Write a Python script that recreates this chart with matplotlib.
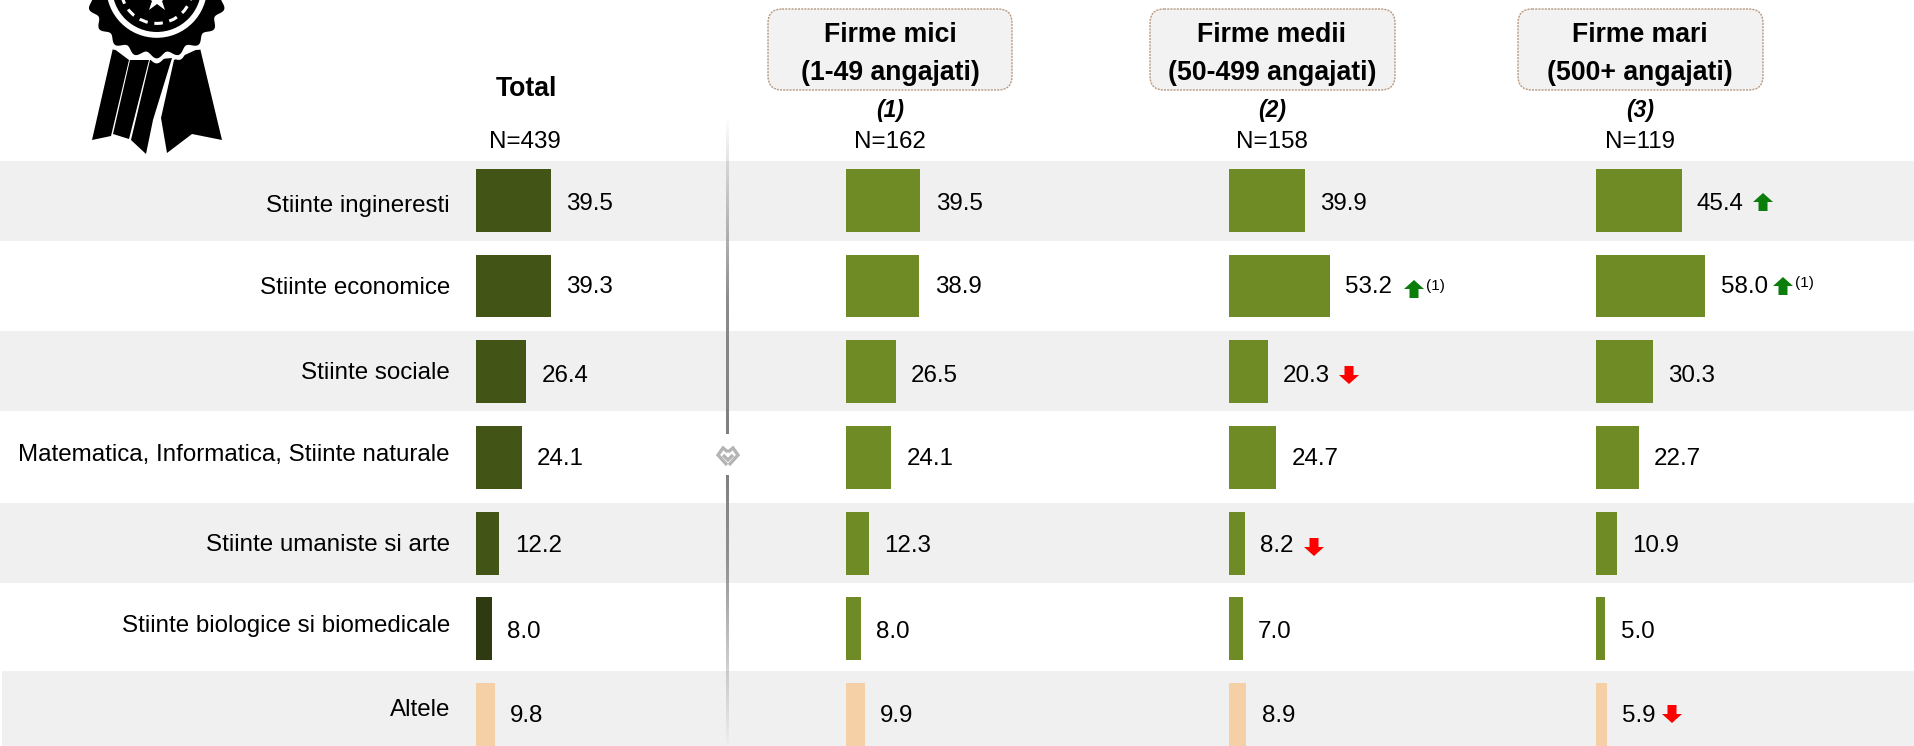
import numpy as np
import matplotlib
matplotlib.use("Agg")
import matplotlib.pyplot as plt
from matplotlib.patches import Rectangle, FancyBboxPatch, Polygon, Circle

categories = ["Stiinte ingineresti", "Stiinte economice", "Stiinte sociale",
              "Matematica, Informatica, Stiinte naturale", "Stiinte umaniste si arte",
              "Stiinte biologice si biomedicale", "Altele"]
total = [39.5, 39.3, 26.4, 24.1, 12.2, 8.0, 9.8]
mici = [39.5, 38.9, 26.5, 24.1, 12.3, 8.0, 9.9]
medii = [39.9, 53.2, 20.3, 24.7, 8.2, 7.0, 8.9]
mari = [45.4, 58.0, 30.3, 22.7, 10.9, 5.0, 5.9]
n_labels = ["N=439", "N=162", "N=158", "N=119"]
headers = ["Firme mici\n(1-49 angajati)", "Firme medii\n(50-499 angajati)", "Firme mari\n(500+ angajati)"]
col_ids = ["(1)", "(2)", "(3)"]
# (column, row, direction, note)
signals = [(3, 0, 1, ""), (2, 1, 1, "(1)"), (3, 1, 1, "(1)"), (2, 2, -1, ""), (2, 4, -1, ""), (3, 6, -1, "")]

W, H = 1915, 746
plt.rcParams["font.family"] = ["Liberation Sans"]
FS = 17.4
FSB = 19.2
OLIVE, DARK, DARKER, PEACH, BAND = "#6f8b26", "#435417", "#2f3a10", "#f5cfa5", "#f0f0f0"

fig = plt.figure(figsize=(W / 100, H / 100), dpi=100, facecolor="white")
bg = fig.add_axes([0, 0, 1, 1])
bg.axis("off")

for y0, y1, x0 in [(161, 241, 0), (331, 411, 0), (503, 583, 0), (671, 746, 2)]:
    bg.add_patch(Rectangle((x0, y0), W - x0, y1 - y0, fc=BAND, ec="none", zorder=0))

# vertical divider with fading ends
def fade(y0, y1, a0, a1):
    rgba = np.zeros((200, 1, 4)); rgba[..., :3] = 0.5
    rgba[:, 0, 3] = np.linspace(a0, a1, 200)
    bg.imshow(rgba, extent=(726.5, 729.5, y1, y0), aspect="auto", zorder=1, interpolation="bilinear")
fade(120, 300, 0.02, 0.9); fade(300, 434, 0.9, 1); fade(475, 560, 1, 0.85); fade(560, 745, 0.85, 0.02)
ic = dict(color="#b4b4b4", lw=2.4, solid_joinstyle="miter", solid_capstyle="butt", zorder=2)
bg.plot([728, 723, 718, 727], [452, 448, 455, 465], **ic)
bg.plot([728, 733, 738, 729], [452, 448, 455, 465], **ic)
bg.plot([723, 728, 733], [455, 460, 455], **ic)

# medal
cx, cy = 156.7, -12.6
t = np.linspace(0, 2 * np.pi, 600)
r = 68 + 3 * np.cos(20 * t)
ribbons = [[(113, 48), (92, 140), (111, 136), (129, 60)],
           [(130, 60), (113, 134), (129, 139), (149, 60)],
           [(150, 60), (131, 140), (146, 154), (153, 120), (172, 58)],
           [(174, 60), (161, 118), (167, 153), (192, 134), (222, 140), (200, 48)]]
for p in ribbons:
    bg.add_patch(Polygon(p, fc="black", ec="none", zorder=2))
bg.add_patch(Polygon(np.c_[cx + (r + 5) * np.cos(t), cy + (r + 5) * np.sin(t)], fc="white", ec="none", zorder=3))
bg.add_patch(Polygon(np.c_[cx + r * np.cos(t), cy + r * np.sin(t)], fc="black", ec="none", zorder=4))
bg.add_patch(Circle((cx, cy), 47.5, fc="none", ec="white", lw=4.2, zorder=5))
bg.add_patch(Circle((cx, cy), 36, fc="none", ec="white", lw=2.2, ls=(0, (2.8, 2.2)), zorder=5))
bg.plot([cx], [-1], marker="*", ms=20, mew=0, color="white", zorder=5, clip_on=True)

# headers
centers = [525, 890, 1272, 1640]
boxes = [(768, 1012), (1150, 1395), (1518, 1763)]
bg.text(526, 89, "Total", ha="center", va="center", fontsize=FSB, fontweight="bold", zorder=6)
for c, lab in zip(centers, n_labels):
    bg.text(c, 142, lab, ha="center", va="center", fontsize=FS, zorder=6)
for (x0, x1), head, cid, c in zip(boxes, headers, col_ids, centers[1:]):
    bg.add_patch(FancyBboxPatch((x0, 9), x1 - x0, 81, boxstyle="round,pad=0,rounding_size=14",
                                fc="#f2f2f2", ec="#b89a82", lw=1, ls=(0, (1.5, 0.8)), zorder=1))
    bg.text(c, 54, head, ha="center", va="center", fontsize=FSB, fontweight="bold", linespacing=1.65, zorder=6)
    bg.text(c, 111, cid, ha="center", va="center", fontsize=16.5, fontweight="bold", fontstyle="italic", zorder=6)

# category labels
label_y = [206, 288, 373, 455, 545, 626, 710]
for cat, y in zip(categories, label_y):
    bg.text(450, y, cat, ha="right", va="center", fontsize=FS, zorder=6)

bg.set_xlim(0, W); bg.set_ylim(H, 0)

# bar panels
PX_PER_UNIT = 1.885
ROW0, PITCH = 200.3, 85.7
series = [total, mici, medii, mari]
starts = [476.5, 846, 1229.5, 1596]
panel_w = 300
rows = np.arange(len(categories))
value_dy = [-3, -1, -3, -1, -2, -2, -1]
for i, (vals, x0) in enumerate(zip(series, starts)):
    top = ROW0 - PITCH / 2
    bottom = ROW0 + PITCH * 6.5
    ax = fig.add_axes([x0 / W, 1 - bottom / H, panel_w / W, (bottom - top) / H])
    ax.patch.set_alpha(0)
    ax.set_xlim(0, panel_w / PX_PER_UNIT)
    ax.set_ylim(6.5, -0.5)
    ax.axis("off")
    cols = ([DARK] * 5 + [DARKER, PEACH]) if i == 0 else ([OLIVE] * 6 + [PEACH])
    ax.barh(rows, vals, height=0.735, color=cols, edgecolor="none")
    for r_, v, dy in zip(rows, vals, value_dy):
        ax.annotate(f"{v:.1f}", (v, r_), xytext=(11, dy), textcoords="offset points",
                    ha="left", va="center", fontsize=FS, annotation_clip=False)

# significance arrows
arrow_pos = {(3, 0): 1763, (2, 1): 1414, (3, 1): 1783, (2, 2): 1349, (2, 4): 1314, (3, 6): 1672}
arrow_y = {(3, 0): 202, (2, 1): 289, (3, 1): 286, (2, 2): 375, (2, 4): 547, (3, 6): 714}
for col, row, d, note in signals:
    x, y = arrow_pos[(col, row)], arrow_y[(col, row)]
    w, h = 10, 9
    pts = np.array([(-w, 0), (0, -h), (w, 0), (4.5, 0), (4.5, h), (-4.5, h), (-4.5, 0)], float)
    pts[:, 1] *= d
    bg.add_patch(Polygon(pts + [x, y], fc="#0a7d0a" if d > 0 else "#ff0000", ec="none", zorder=7))
    if note:
        bg.text(x + 12, y - 3, note, ha="left", va="center", fontsize=11, zorder=7)

fig.savefig("out.png", dpi=100)
